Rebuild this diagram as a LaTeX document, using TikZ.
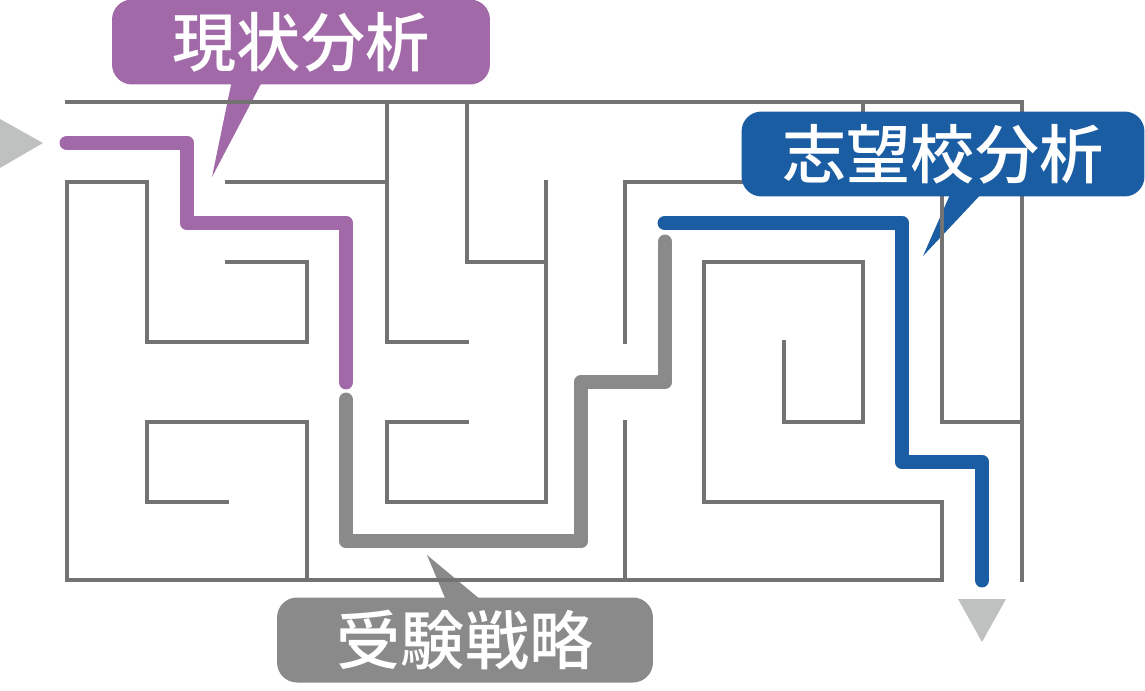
\documentclass[tikz,border=0pt]{standalone}
\usepackage{fontspec}
\newfontfamily\cjk{Noto Sans CJK JP Medium}
\definecolor{wallgray}{RGB}{115,115,115}
\definecolor{routepurple}{RGB}{161,105,168}
\definecolor{routegray}{RGB}{138,138,138}
\definecolor{routeblue}{RGB}{26,93,163}
\definecolor{arrowgray}{RGB}{191,193,192}
\tikzset{
  wall/.style={draw=wallgray, line width=1.8pt, line cap=rect},
  route/.style={line width=8.5pt, line cap=round, line join=round},
  bubble/.style={rounded corners=0.4cm, inner sep=0pt, minimum height=1.7cm,
    text=white, font=\cjk\fontsize{36.5pt}{36.5pt}\selectfont},
}
\begin{document}
\begin{tikzpicture}[x=0.02cm, y=-0.02cm]
\useasboundingbox (0,0) rectangle (1145,690);

% the points the bubble tails aim at
\coordinate (tipNow) at (212,177);
\coordinate (tipGoal) at (923,256);
\coordinate (tipPlan) at (427,555);

% tails first, so the walls run over them
\fill[routepurple] (232,80) -- (263,80) -- (tipNow) -- cycle;
\fill[routeblue] (952,190) -- (985,190) -- (tipGoal) -- cycle;
\fill[routegray] (448,605) -- (487,605) -- (tipPlan) -- cycle;

% --- outer frame ---
\draw[wall] (67,102) -- (1022,102) -- (1022,580);
\draw[wall] (67,182) -- (67,580) -- (942,580);

% --- inner walls, left half ---
\draw[wall] (67,182) -- (147,182) -- (147,342) -- (307,342) -- (307,262) -- (227,262);
\draw[wall] (227,182) -- (387,182);
\draw[wall] (387,102) -- (387,342) -- (467,342);
\draw[wall] (307,580) -- (307,422) -- (147,422) -- (147,502) -- (227,502);
\draw[wall] (467,422) -- (387,422) -- (387,502) -- (546,502) -- (546,182);
\draw[wall] (467,102) -- (467,262) -- (546,262);

% --- inner walls, right half ---
\draw[wall] (625,342) -- (625,182) -- (785,182);
\draw[wall] (625,422) -- (625,580);
\draw[wall] (784,342) -- (784,422) -- (863,422) -- (863,262) -- (704,262)
  -- (704,502) -- (942,502) -- (942,580);
\draw[wall] (863,102) -- (863,182);
\draw[wall] (942,182) -- (942,422) -- (1022,422);

% --- in and out markers ---
\fill[arrowgray] (0,119) -- (43,143) -- (0,168) -- cycle;
\fill[arrowgray] (958,599) -- (1006,599) -- (982,642) -- cycle;

% --- the three stretches of the route ---
\draw[route, routepurple] (67,143) -- (187,143) -- (187,223) -- (346,223) -- (346,382);
\draw[route, routegray] (346,400) -- (346,541) -- (581,541) -- (581,382) -- (665,382) -- (665,242);
\draw[route, routeblue] (665,223) -- (902,223) -- (902,462) -- (982,462) -- (982,580);

% --- bubbles ---
\node[bubble, fill=routepurple, minimum width=7.56cm] (now) at (301,42) {現状分析};
\node[bubble, fill=routeblue, minimum width=8.06cm] (goal) at (943,154) {志望校分析};
\node[bubble, fill=routegray, minimum width=7.52cm] (plan) at (465,640) {受験戦略};

\end{tikzpicture}
\end{document}
